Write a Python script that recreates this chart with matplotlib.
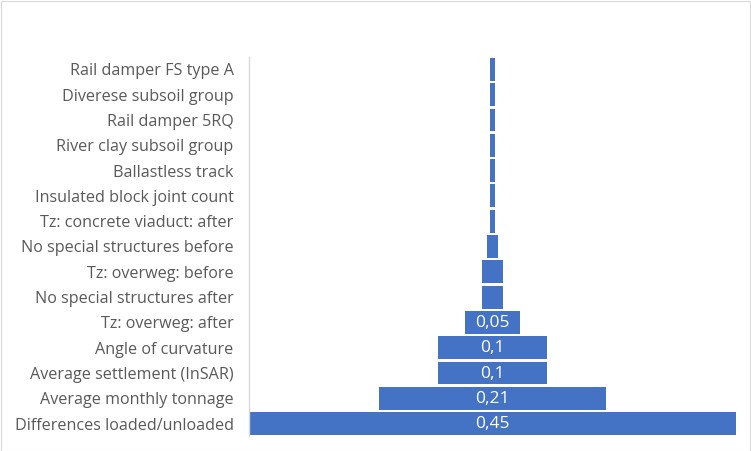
import matplotlib
matplotlib.use("Agg")
import matplotlib.pyplot as plt
from matplotlib.patches import Rectangle

categories = [
    "Rail damper FS type A",
    "Diverese subsoil group",
    "Rail damper 5RQ",
    "River clay subsoil group",
    "Ballastless track",
    "Insulated block joint count",
    "Tz: concrete viaduct: after",
    "No special structures before",
    "Tz: overweg: before",
    "No special structures after",
    "Tz: overweg: after",
    "Angle of curvature",
    "Average settlement (InSAR)",
    "Average monthly tonnage",
    "Differences loaded/unloaded",
]
values = [0.005, 0.005, 0.005, 0.005, 0.005, 0.005, 0.005,
          0.01, 0.02, 0.02, 0.05, 0.1, 0.1, 0.21, 0.45]
labels = ["", "", "", "", "", "", "", "", "", "", "0,05", "0,1", "0,1", "0,21", "0,45"]

W, H = 751, 451
fig = plt.figure(figsize=(W / 100, H / 100), dpi=100)
fig.patches.append(Rectangle((0.5 / W, 0.5 / H), 1 - 1.5 / W, 1 - 1.5 / H, transform=fig.transFigure,
                             fill=False, edgecolor="#d9d9d9", linewidth=0.8))

ax = fig.add_axes([249 / W, 1 - 436.3 / H, 487 / W, (436.3 - 56.7) / H])
color = "#4472c4"
ypos = list(range(len(categories)))
lefts = [-v / 2 for v in values]
ax.barh(ypos, values, left=lefts, height=0.9, color=color)
for y, v, lab in zip(ypos, values, labels):
    if lab:
        ax.text(0, y + 0.03, lab, ha="center", va="center", color="white",
                fontsize=12.5, family="Open Sans")

ax.set_xlim(-0.225, 0.225)
ax.set_ylim(14.5, -0.5)
ax.set_yticks(ypos)
ax.set_yticklabels(categories, fontsize=11.6, color="#595959", family="Open Sans")
ax.tick_params(axis="y", length=0, pad=11)
ax.set_xticks([])
for s in ["top", "right", "bottom"]:
    ax.spines[s].set_visible(False)
ax.spines["left"].set_color("#d9d9d9")
ax.spines["left"].set_linewidth(1)

fig.savefig("out.png", dpi=100)
